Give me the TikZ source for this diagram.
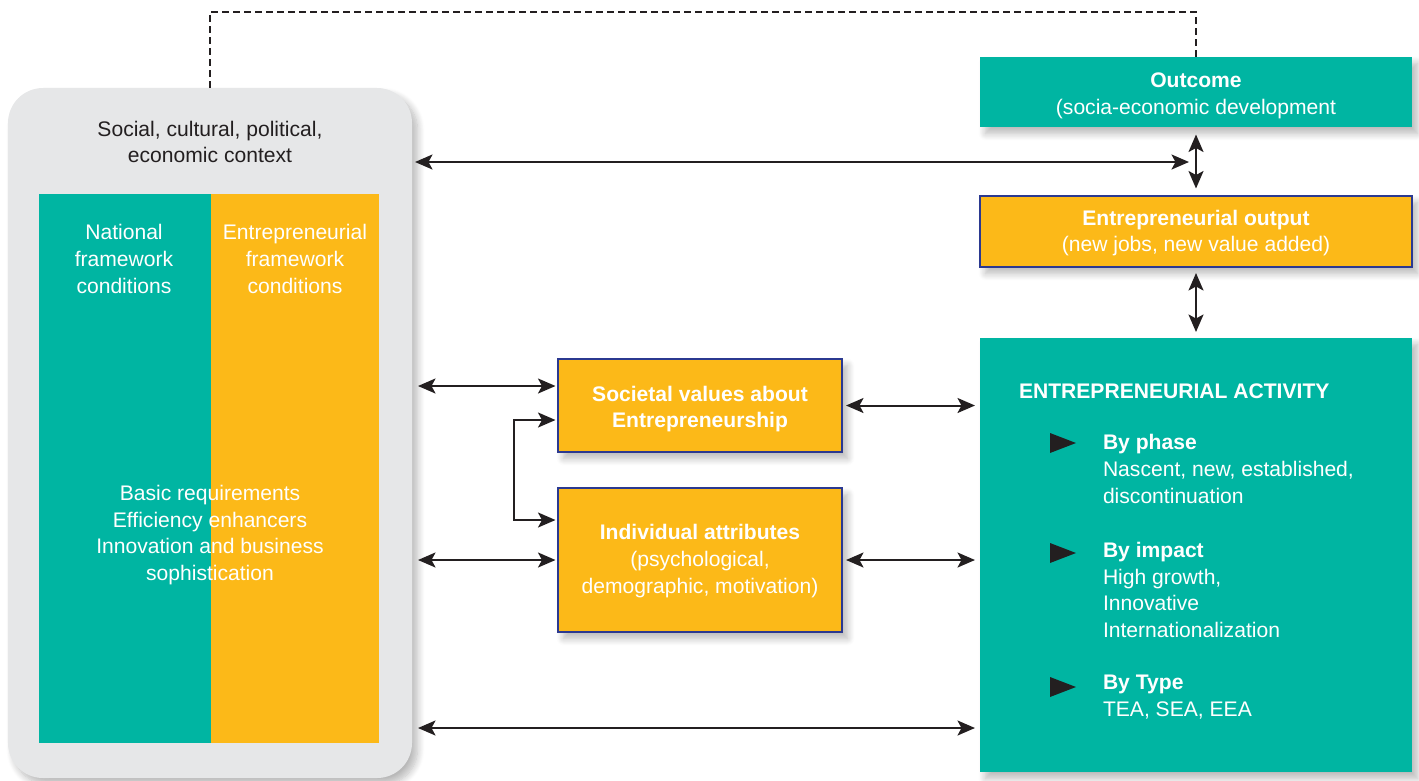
\documentclass[tikz,border=0pt]{standalone}
\usepackage{fontspec}
\setmainfont{Liberation Sans}
\usetikzlibrary{arrows.meta,shadows.blur}
\definecolor{gemteal}{RGB}{0,181,162}
\definecolor{gemorange}{RGB}{252,185,24}
\definecolor{gemnavy}{RGB}{43,57,144}
\definecolor{gemgray}{RGB}{230,231,232}
\definecolor{gemink}{RGB}{35,31,32}

\begin{document}
\begin{tikzpicture}[x=0.2mm, y=-0.2mm,
        every node/.style={font=\fontsize{12}{15.2}\selectfont, inner sep=0pt, outer sep=0pt},
        lifted/.style={blur shadow={shadow xshift=1.1mm, shadow yshift=-1.3mm, shadow blur radius=1.4mm, shadow blur steps=10, shadow opacity=28}},
        tealbox/.style={fill=gemteal, text=white, align=center, lifted},
        orangebox/.style={fill=gemorange, draw=gemnavy, line width=0.45mm, text=white, align=center, lifted},
        link/.style={draw=gemink, line width=0.4mm, {Stealth[length=3.5mm,width=3mm,inset=0.8mm]}-{Stealth[length=3.5mm,width=3mm,inset=0.8mm]}}]
        \useasboundingbox (0,0) rectangle (1419,780);

        % context panel
        \node (ctx) [fill=gemgray, rounded corners=7mm, minimum width=80.8mm, minimum height=138mm, lifted] at (210,433) {};
        \node (ctxlabel) [text=gemink, align=center] at (210,142) {Social, cultural, political,\\economic context};
        \node (nfc) [fill=gemteal, minimum width=34.4mm, minimum height=109.8mm] at (125,468.5) {};
        \node (efc) [fill=gemorange, minimum width=33.6mm, minimum height=109.8mm] at (295,468.5) {};
        \node (nfclabel) [text=white, align=center] at (124,259) {National\\framework\\conditions};
        \node (efclabel) [text=white, align=center] at (295,259) {Entrepreneurial\\framework\\conditions};
        \node (pillars) [text=white, align=center] at (210,535) {Basic requirements\\Efficiency enhancers\\Innovation and business\\sophistication};

        % middle boxes
        \node (soc) [orangebox, minimum width=56.8mm, minimum height=18.6mm] at (700,405.5) {};
        \node (soclabel) [text=white, align=center, font=\fontsize{12}{15.2}\selectfont\bfseries] at (700,409) {Societal values about\\Entrepreneurship};
        \node (ind) [orangebox, minimum width=56.8mm, minimum height=28.8mm] at (700,560) {};
        \node (indlabel) [text=white, align=center] at (700,561) {\textbf{Individual attributes}\\(psychological,\\demographic, motivation)};

        % right column
        \node (outcome) [tealbox, minimum width=86.4mm, minimum height=14mm] at (1196,92) {};
        \node (outcomelabel) [text=white, align=center] at (1196,96) {\textbf{Outcome}\\(socia-economic development};
        \node (output) [orangebox, minimum width=86.4mm, minimum height=14.2mm] at (1196,231.5) {};
        \node (outputlabel) [text=white, align=center] at (1196,233) {\textbf{Entrepreneurial output}\\(new jobs, new value added)};
        \node (act) [tealbox, minimum width=86.4mm, minimum height=86.8mm] at (1196,555) {};
        \node (acttitle) [text=white, anchor=west, font=\fontsize{12}{15.2}\selectfont\bfseries] at (1019,391) {ENTREPRENEURIAL ACTIVITY};
        \node (phase) [text=white, anchor=west, align=left] at (1103,469) {\textbf{By phase}\\Nascent, new, established,\\discontinuation};
        \node (impact) [text=white, anchor=west, align=left] at (1103,590) {\textbf{By impact}\\High growth,\\Innovative\\Internationalization};
        \node (kind) [text=white, anchor=west, align=left] at (1103,697) {\textbf{By Type}\\TEA, SEA, EEA};
        \foreach \y in {443,553,687}
                \fill [gemink] (1050,\y-10) -- (1076,\y) -- (1050,\y+10) -- cycle;

        % connectors
        \coordinate (bend) at (514,470);
        \draw [gemink, line width=0.4mm, dash pattern=on 1.4mm off 0.8mm] (ctx.north) |- (outcome.north |- 0,12) -- (outcome.north);
        \draw [link, shorten <=0.6mm, shorten >=1.4mm] (ctx.east |- 0,162) -- (outcome.south |- 0,162);
        \draw [link, shorten <=1.5mm, shorten >=1.5mm] (outcome.south) -- (output.north);
        \draw [link, shorten <=1.2mm, shorten >=1.2mm] (output.south) -- (act.north);
        \draw [link, shorten <=1.2mm, shorten >=0.5mm] (ctx.east |- 0,386) -- (soc.west |- 0,386);
        \draw [link, shorten <=1.2mm, shorten >=0.5mm] (ctx.east |- ind.west) -- (ind.west);
        \draw [link, shorten <=1.2mm, shorten >=1mm] (ctx.east |- 0,728) -- (act.west |- 0,728);
        \draw [link, shorten <=0.8mm, shorten >=1mm] (soc.east) -- (act.west |- soc.east);
        \draw [link, shorten <=0.8mm, shorten >=1mm] (ind.east) -- (act.west |- ind.east);
        \draw [link, shorten <=0.5mm, shorten >=0.5mm] (soc.west |- 0,420) -| (bend) |- (ind.west |- 0,520);
\end{tikzpicture}
\end{document}
